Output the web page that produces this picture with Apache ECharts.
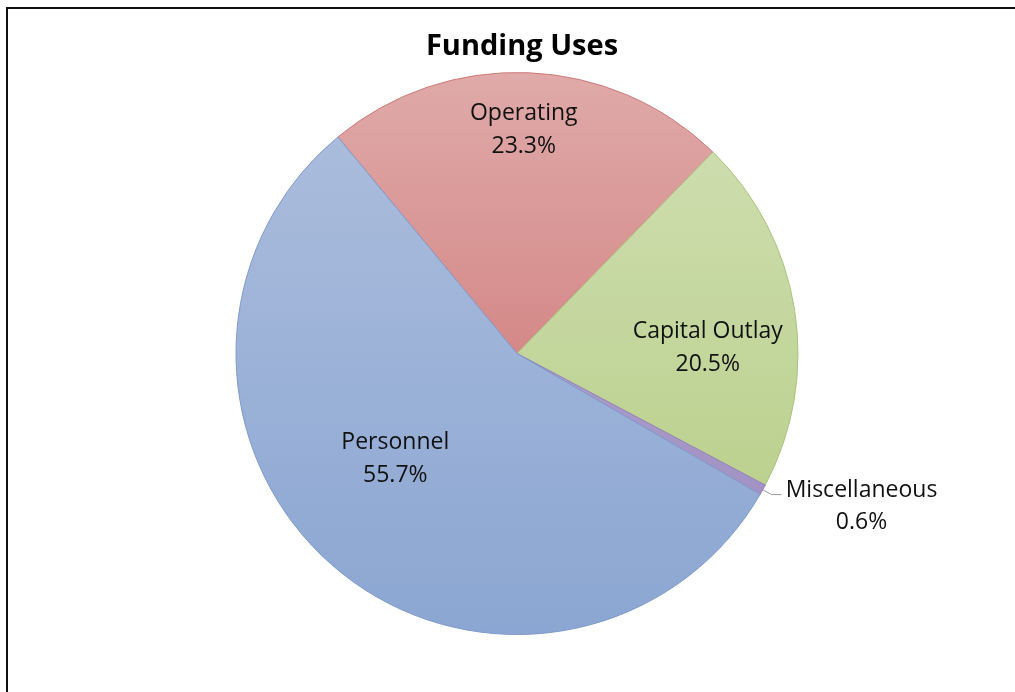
<!DOCTYPE html>
<html><head><meta charset="utf-8">
<script src="https://cdn.jsdelivr.net/npm/echarts@6/dist/echarts.min.js"></script>
<style>html,body{margin:0;padding:0;background:#fff;}#c{width:1015px;height:692px;}</style>
</head><body><div id="c"></div>
<script>
const title = 'Funding Uses';
const categories = ['Operating', 'Capital Outlay', 'Miscellaneous', 'Personnel'];
const values = [23.3, 20.5, 0.6, 55.7];
const topColors = ['#DFAAA9', '#CDDDAE', '#AC9DCB', '#AABCDC'];
const bottomColors = ['#D48988', '#BCD18F', '#A292C3', '#8BA6D2'];
const edgeColors = ['#CF7A79', '#A9C47E', '#9583BC', '#7F9ACB'];
// label nudges (dx, dy) from the default label position
const labelShift = [[1, -80], [49, 17], [0, 12], [-29, -4]];

const chart = echarts.init(document.getElementById('c'), null, {renderer: 'canvas'});
const font = '"Open Sans", "Noto Sans", sans-serif';
chart.setOption({
  animation: false,
  backgroundColor: '#ffffff',
  title: {
    text: title, left: 517, top: 27, textAlign: 'center',
    textStyle: {fontFamily: font, fontWeight: 'bold', fontSize: 29, color: '#000'}
  },
  graphic: [{
    type: 'rect', shape: {x: 7, y: 8, width: 1100, height: 800},
    style: {fill: 'none', stroke: '#111', lineWidth: 2}, silent: true, z: 100
  }],
  series: [{
    type: 'pie',
    center: [517, 353.5],
    radius: [0, 281],
    startAngle: 129.6,
    clockwise: true,
    avoidLabelOverlap: false,
    data: categories.map((c, i) => ({
      name: c, value: values[i],
      itemStyle: {
        color: {type: 'linear', x: 0, y: 0, x2: 0, y2: 1,
          colorStops: [{offset: 0, color: topColors[i]}, {offset: 1, color: bottomColors[i]}]},
        borderColor: edgeColors[i], borderWidth: 1
      },
      label: i === 2 ? {
        position: 'outside',
        formatter: '{a|{b}}\n{a|{c}%}',
        distanceToLabelLine: 1,
        rich: {a: {fontFamily: font, fontSize: 23, color: '#111', width: 158, align: 'center', lineHeight: 32}}
      } : {
        position: 'inside',
        formatter: '{b}\n{c}%',
        fontFamily: font, fontSize: 23, color: '#111', lineHeight: 33
      },
      labelLine: i === 2 ? {show: true, length: 10, length2: 10, lineStyle: {color: '#999', width: 1}} : {show: false}
    })),
    label: {fontFamily: font, fontSize: 23, color: '#111'},
    labelLayout: function (p) {
      const s = labelShift[p.dataIndex];
      return {dx: s[0], dy: s[1]};
    }
  }]
});
</script></body></html>
